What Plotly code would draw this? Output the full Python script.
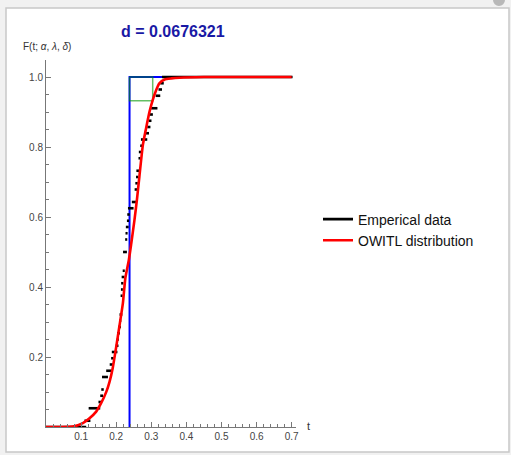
import plotly.graph_objects as go

# ---------------- data ----------------
d_stat = 0.0676321
title_text = "d = 0.0676321"

# sorted observations (empirical data)
obs = [0.112, 0.124, 0.124, 0.152, 0.157, 0.160, 0.162, 0.162, 0.174, 0.184,
       0.188, 0.190, 0.201, 0.204, 0.205, 0.208, 0.211, 0.212, 0.215, 0.215,
       0.215, 0.216, 0.2165, 0.218, 0.221, 0.222, 0.222, 0.222, 0.228, 0.228,
       0.229, 0.230, 0.233, 0.234, 0.236, 0.247, 0.255, 0.255, 0.257, 0.259,
       0.260, 0.266, 0.266, 0.267, 0.271, 0.273, 0.286, 0.291, 0.295, 0.298,
       0.302, 0.315, 0.315, 0.323, 0.328, 0.333]

# fitted OWITL distribution CDF
owitl_t = [0.0, 0.04, 0.076, 0.105, 0.124, 0.143, 0.157, 0.172, 0.181, 0.190,
           0.200, 0.209, 0.219, 0.226, 0.236, 0.243, 0.252, 0.259, 0.266, 0.276,
           0.285, 0.295, 0.304, 0.314, 0.323, 0.338, 0.357, 0.380, 0.45, 0.70]
owitl_F = [0.0, 0.0, 0.001, 0.011, 0.025, 0.044, 0.068, 0.101, 0.129, 0.168,
           0.229, 0.287, 0.353, 0.425, 0.477, 0.525, 0.591, 0.649, 0.715, 0.806,
           0.853, 0.901, 0.934, 0.963, 0.982, 0.993, 0.996, 0.998, 1.0, 1.0]

# vertical/horizontal reference line and KS box
blue_t = [0.238, 0.238, 0.34]
blue_F = [0.0, 1.0, 1.0]
box_t0, box_t1 = 0.238, 0.304

x_ticks = [0.1, 0.2, 0.3, 0.4, 0.5, 0.6, 0.7]
y_ticks = [0.2, 0.4, 0.6, 0.8, 1.0]
t_max = 0.7

legend_names = ["Emperical data", "OWITL distribution"]

# ---------------- figure ----------------
W, H = 511, 455
L, R, T, B = 46, 215, 60, 28
pw, ph = W - L - R, H - T - B


def px(x):
    return (x - L) / pw


def py(y):
    return (H - B - y) / ph


fig = go.Figure()

fig.add_trace(go.Scatter(x=blue_t, y=blue_F, mode="lines",
                         line=dict(color="rgb(0,0,255)", width=2),
                         showlegend=False, hoverinfo="skip"))

fig.add_trace(go.Scatter(x=[box_t0, box_t1, box_t1, box_t0, box_t0],
                         y=[1, 1, 1 - d_stat, 1 - d_stat, 1], mode="lines",
                         line=dict(color="rgb(0,150,0)", width=1.5),
                         opacity=0.6, showlegend=False, hoverinfo="skip"))

# ECDF dashes
n = len(obs)
ex, ey = [], []
cap = 0.0025
for k in range(n + 1):
    a = 0.0 if k == 0 else obs[k - 1]
    b = t_max if k == n else obs[k]
    if b <= a:
        continue
    ex += [max(a - cap, 0), b + cap, None]
    ey += [k / n, k / n, None]
fig.add_trace(go.Scatter(x=ex, y=ey, mode="lines", name=legend_names[0],
                         line=dict(color="black", width=2.6),
                         legendrank=1, hoverinfo="skip"))

fig.add_trace(go.Scatter(x=owitl_t, y=owitl_F, mode="lines", name=legend_names[1],
                         line=dict(color="rgb(255,0,0)", width=2.6, shape="spline",
                                   smoothing=0.5),
                         legendrank=2, hoverinfo="skip"))

axis_common = dict(showgrid=False, zeroline=False, showline=True,
                   linecolor="#777", linewidth=1, ticks="inside", ticklen=5,
                   tickcolor="#777", tickwidth=1,
                   tickfont=dict(family="Liberation Sans, Arial", size=10, color="#444"))

fig.update_xaxes(range=[0, pw / 351], tickvals=x_ticks,
                 ticktext=[f"{v:.1f}" for v in x_ticks],
                 minor=dict(dtick=0.02, tick0=0, ticks="inside", ticklen=3,
                            tickcolor="#777"),
                 **axis_common)
fig.update_yaxes(range=[0, ph / 350], tickvals=y_ticks,
                 ticktext=[f"{v:.1f}" for v in y_ticks],
                 minor=dict(dtick=0.05, tick0=0, ticks="inside", ticklen=3,
                            tickcolor="#777"),
                 **axis_common)

fig.update_layout(
    width=W, height=H,
    margin=dict(l=L, r=R, t=T, b=B, autoexpand=False),
    paper_bgcolor="#f1f1f1", plot_bgcolor="white",
    font=dict(family="Liberation Sans, Arial", color="#222"),
    legend=dict(x=px(318), y=py(230), xanchor="left", yanchor="middle",
                bgcolor="rgba(0,0,0,0)", font=dict(size=14, color="#111"),
                tracegroupgap=0),
    shapes=[
        dict(type="rect", xref="paper", yref="paper", layer="below",
             x0=px(6), x1=px(509), y0=py(452), y1=py(8),
             fillcolor="white", line=dict(color="#c8c8c8", width=1.5)),
        dict(type="circle", xref="paper", yref="paper", layer="above",
             x0=px(493), x1=px(505), y0=py(6), y1=py(-6),
             fillcolor="#b8b8b8", line=dict(width=0)),
    ],
    annotations=[
        dict(text="<b>" + title_text + "</b>", xref="paper", yref="paper",
             x=px(173), y=py(32), showarrow=False, xanchor="center", yanchor="middle",
             font=dict(size=16, color="rgb(25,25,165)")),
        dict(text="F(t; <i>α</i>, <i>λ</i>, <i>δ</i>)", xref="paper", yref="paper",
             x=px(21), y=py(46), showarrow=False, xanchor="left", yanchor="middle",
             font=dict(size=10, color="#333")),
        dict(text="t", xref="paper", yref="paper",
             x=px(305), y=py(426), showarrow=False, xanchor="left", yanchor="middle",
             font=dict(size=11, color="#333")),
    ],
)

fig.write_html("out.html", config={"displayModeBar": False},
               post_script="document.body.style.margin='0';"
                           "document.body.style.overflow='hidden';")
